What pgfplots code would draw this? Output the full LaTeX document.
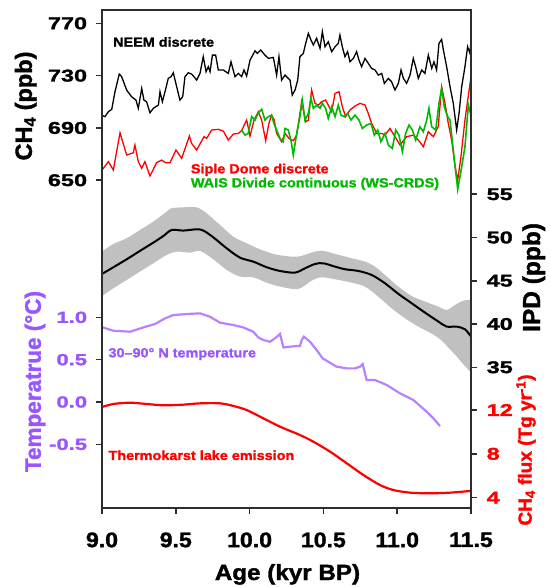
\documentclass[border=0pt]{standalone}
\usepackage{fontspec}
\setmainfont{Liberation Sans}[FakeStretch=1.1, BoldFeatures={FakeBold=1.5}]
\newfontfamily\yfont{Liberation Sans}[FakeStretch=1.38, BoldFeatures={FakeBold=1.5}]
\newfontfamily\rfont{Liberation Sans}[BoldFeatures={FakeBold=1.5}]
\usepackage{pgfplots}
\pgfplotsset{compat=1.18}
\usepgfplotslibrary{fillbetween}

\definecolor{ch4red}{RGB}{255,0,0}
\definecolor{waisgreen}{RGB}{0,185,0}
\definecolor{tempviolet}{RGB}{153,85,255}
\definecolor{templine}{RGB}{182,130,255}
\definecolor{band}{RGB}{192,192,192}
\definecolor{axisgray}{RGB}{45,45,45}

\pgfplotsset{
  frame/.style={
    at={(102pt,79pt)}, anchor=south west,
    scale only axis, width=369pt, height=498pt,
    xmin=9, xmax=11.5,
    axis line style={axisgray, line width=1.5pt},
    tick style={axisgray, line width=1.5pt},
    tick align=outside, major tick length=6pt,
    xtick=\empty,
    clip=true,
  },
  lefty/.style={ytick pos=left, yticklabel pos=left,
    yticklabel style={inner sep=0pt, xshift=-8.7pt, anchor=east}},
  righty/.style={ytick pos=right, yticklabel pos=right,
    yticklabel style={inner sep=0pt, xshift=9.5pt, anchor=west}},
}

\begin{document}
\begin{tikzpicture}

% IPD with band
\begin{axis}[frame, righty,
  ymin=18.73, ymax=76.3,
  ytick={35,40,45,50,55}, yticklabels={35,40,45,50,55},
  yticklabel style={font=\yfont\bfseries\fontsize{17}{20}\selectfont},
  ylabel={IPD (ppb)},
  ylabel style={at={(axis description cs:1.1699,0.4629)}, anchor=center,
    font=\rfont\bfseries\fontsize{24.5}{28}\selectfont},
]
\addplot[name path=up, draw=none, smooth] coordinates {
(9.0,48.37)(9.077,49.25)(9.167,49.91)(9.257,50.87)(9.348,51.84)(9.438,52.99)(9.472,53.38)(9.551,53.49)(9.641,53.49)(9.709,52.8)(9.799,51.45)(9.89,50.1)(9.98,49.33)(10.07,48.64)(10.161,48.1)(10.24,47.87)(10.33,47.79)(10.42,48.25)(10.488,48.48)(10.579,48.1)(10.692,47.6)(10.782,47.21)(10.85,46.63)(10.917,45.67)(11.008,44.32)(11.098,43.24)(11.188,42.59)(11.279,42.01)(11.335,41.62)(11.392,42.2)(11.448,42.7)(11.5,42.78)};
\addplot[name path=lo, draw=none, smooth] coordinates {
(9.0,43.24)(9.077,44.13)(9.167,45.09)(9.257,46.06)(9.348,47.02)(9.438,47.98)(9.506,48.37)(9.596,48.25)(9.664,48.45)(9.754,47.48)(9.845,46.25)(9.935,45.48)(10.025,45.4)(10.116,44.78)(10.206,44.32)(10.33,44.05)(10.42,45.01)(10.488,45.4)(10.579,45.17)(10.692,44.78)(10.782,44.32)(10.872,43.16)(10.962,41.82)(11.053,40.66)(11.143,39.7)(11.233,38.9)(11.3,38.1)(11.35,37.2)(11.4,36.3)(11.45,35.3)(11.5,34.4)};
\addplot[band] fill between[of=up and lo];
\addplot[black, line width=2pt, smooth] coordinates {
(9.0,45.79)(9.077,46.56)(9.167,47.48)(9.257,48.45)(9.348,49.41)(9.416,50.18)(9.472,50.87)(9.551,50.8)(9.641,50.95)(9.687,50.8)(9.754,50.02)(9.845,48.75)(9.935,47.67)(10.025,47.21)(10.116,46.56)(10.206,46.13)(10.308,45.94)(10.375,46.44)(10.443,46.94)(10.5,47.02)(10.579,46.63)(10.646,46.33)(10.737,46.13)(10.827,45.67)(10.917,44.71)(11.008,43.48)(11.098,42.4)(11.188,41.32)(11.279,40.28)(11.335,39.7)(11.403,39.7)(11.459,39.39)(11.5,38.54)};
\end{axis}

% CH4 records
\begin{axis}[frame, lefty,
  ymin=399.3, ymax=780.2,
  ytick={650,690,730,770}, yticklabels={650,690,730,770},
  yticklabel style={font=\yfont\bfseries\fontsize{17}{20}\selectfont},
  xtick={9,9.5,10,10.5,11,11.5},
  xticklabels={9.0,9.5,10.0,10.5,11.0,11.5},
  xtick pos=bottom,
  xticklabel style={font=\bfseries\fontsize{21}{24}\selectfont, inner sep=0pt, yshift=-18.3pt},
  xlabel={Age (kyr BP)},
  xlabel style={at={(axis description cs:0.5027,-0.1446)}, anchor=base,
    font=\bfseries\fontsize{22}{26}\selectfont},
  ylabel={CH\textsubscript{4} (ppb)},
  ylabel style={at={(axis description cs:-0.2065,0.8072)}, anchor=center,
    font=\rfont\bfseries\fontsize{23.5}{28}\selectfont},
]
\addplot[black, line width=1.3pt] coordinates {
(9.005,699.3)(9.02,698.6)(9.043,702.4)(9.066,704.2)(9.088,717.7)(9.117,731.2)(9.133,729.2)(9.167,719)(9.2,713.9)(9.23,711.3)(9.246,705)(9.269,720.2)(9.284,711.3)(9.302,710)(9.325,701.6)(9.348,705)(9.382,707.5)(9.393,717.7)(9.409,710)(9.427,717.7)(9.449,727.9)(9.468,729.2)(9.483,732.2)(9.506,721.5)(9.528,711.3)(9.547,713.9)(9.562,729.2)(9.585,732.2)(9.607,731.2)(9.623,729.2)(9.641,726.6)(9.664,731.7)(9.686,744.5)(9.705,733)(9.72,736.8)(9.732,733)(9.748,745.7)(9.77,745.7)(9.788,734.3)(9.822,734.3)(9.856,731.7)(9.874,740.6)(9.901,729.2)(9.924,731.7)(9.946,729.2)(9.962,734.3)(9.98,729.7)(10.003,741.9)(10.037,749)(10.052,747)(10.075,749.6)(10.104,745.7)(10.127,743.2)(10.161,743.9)(10.183,730.4)(10.199,744.5)(10.217,726.6)(10.24,730.4)(10.262,727.9)(10.274,726.6)(10.289,715.1)(10.308,719)(10.326,726.6)(10.341,744.5)(10.364,747)(10.38,754.7)(10.398,762.3)(10.416,757.2)(10.432,753.4)(10.454,758.5)(10.477,750.8)(10.493,763.6)(10.511,752.1)(10.533,755.9)(10.556,748.3)(10.579,752.1)(10.601,754.7)(10.612,761)(10.628,752.1)(10.646,744.5)(10.664,748.3)(10.68,740.6)(10.703,743.2)(10.725,748.3)(10.741,741.9)(10.759,736.8)(10.782,743.2)(10.804,739.4)(10.827,735.5)(10.85,734.3)(10.872,730.4)(10.895,731.7)(10.913,724.1)(10.94,727.9)(10.962,725.3)(10.985,719)(11.008,724.1)(11.026,734.3)(11.042,727.9)(11.064,724.1)(11.087,730.4)(11.109,743.2)(11.125,736.8)(11.143,727.9)(11.166,734.3)(11.188,731.7)(11.211,745.7)(11.234,735.5)(11.249,740.6)(11.267,734.3)(11.283,754.7)(11.301,757.7)(11.313,749.6)(11.335,736.8)(11.358,721.5)(11.38,708.8)(11.403,688.4)(11.419,701.1)(11.437,721.5)(11.459,736.8)(11.477,752.1)(11.493,747)(11.5,757.2)};
\addplot[ch4red, line width=1.3pt] coordinates {
(9.0,657.8)(9.043,664.2)(9.077,657.8)(9.122,686.3)(9.167,669.3)(9.212,671)(9.223,676.9)(9.246,664.2)(9.269,659.1)(9.291,664.2)(9.325,653.2)(9.37,663.4)(9.404,665.4)(9.431,663.4)(9.461,663.4)(9.501,673.1)(9.54,666.7)(9.592,683.8)(9.607,678.2)(9.641,673.1)(9.691,683.3)(9.709,682)(9.743,688.4)(9.788,688.9)(9.822,687.6)(9.856,680.7)(9.89,685.3)(9.924,685.8)(9.946,687.9)(9.98,696)(10.003,683.8)(10.03,696)(10.059,702.4)(10.082,696)(10.109,680.2)(10.131,693.5)(10.149,699.8)(10.167,696)(10.183,685.8)(10.217,679.4)(10.24,685.8)(10.267,682)(10.296,680.2)(10.319,684.5)(10.353,710)(10.38,694.7)(10.398,696)(10.42,719)(10.443,708.8)(10.466,707.5)(10.488,710)(10.515,711.3)(10.556,702.4)(10.579,716.4)(10.606,717.7)(10.628,706.2)(10.651,698.6)(10.68,703.7)(10.714,706.7)(10.748,708.8)(10.782,707.5)(10.804,701.1)(10.827,693.5)(10.861,685.8)(10.895,685.8)(10.917,684.5)(10.951,689.6)(10.985,683.3)(11.019,676.9)(11.064,683.3)(11.109,684.5)(11.143,680.7)(11.177,675.6)(11.211,687.1)(11.245,683.3)(11.278,690.9)(11.301,721.5)(11.324,708.8)(11.346,693.5)(11.369,680.7)(11.392,660.3)(11.41,650.1)(11.432,668)(11.459,696)(11.5,729.2)};
\addplot[waisgreen, line width=1.6pt] coordinates {
(9.946,688.4)(9.969,684.5)(9.991,685.8)(10.014,698.6)(10.037,696)(10.059,701.6)(10.082,704.2)(10.104,696)(10.127,698.6)(10.149,699.8)(10.165,693.5)(10.183,688.4)(10.206,682)(10.228,679.4)(10.24,689.6)(10.262,688.4)(10.28,680.7)(10.296,669.3)(10.319,685.8)(10.341,698.6)(10.357,711.3)(10.375,696)(10.398,701.1)(10.416,712.6)(10.432,705)(10.454,707.5)(10.477,705)(10.493,708.8)(10.515,705)(10.533,697.3)(10.556,706.2)(10.579,698.6)(10.601,707.5)(10.619,699.8)(10.642,698.6)(10.664,701.1)(10.687,696)(10.714,699.8)(10.741,696)(10.764,689.6)(10.793,692.2)(10.822,693.5)(10.845,684.5)(10.868,688.4)(10.89,679.4)(10.917,685.8)(10.94,676.9)(10.967,674.3)(10.99,688.4)(11.012,684.5)(11.035,671.8)(11.057,685.8)(11.08,692.2)(11.103,688.4)(11.125,680.7)(11.154,690.9)(11.177,687.1)(11.2,696)(11.215,705)(11.234,690.9)(11.261,688.4)(11.283,708.8)(11.301,720.2)(11.319,706.2)(11.342,698.6)(11.358,696)(11.38,673.1)(11.41,643)(11.437,660.3)(11.459,675.6)(11.482,707.5)(11.5,699.8)};
\node[anchor=base west, inner sep=0pt, font=\bfseries\fontsize{13.1}{15}\selectfont]
  at (axis description cs:0.0298,0.9263) {NEEM discrete};
\node[anchor=base west, inner sep=0pt, text=ch4red, font=\bfseries\fontsize{13.1}{15}\selectfont]
  at (axis description cs:0.2404,0.6721) {Siple Dome discrete};
\node[anchor=base west, inner sep=0pt, text=waisgreen, font=\bfseries\fontsize{13.1}{15}\selectfont]
  at (axis description cs:0.2404,0.6440) {WAIS Divide continuous (WS-CRDS)};
\end{axis}

% temperature
\begin{axis}[frame, lefty,
  ymin=-1.252, ymax=4.63,
  ytick={-0.5,0,0.5,1}, yticklabels={-0.5,0.0,0.5,1.0},
  yticklabel style={text=tempviolet, font=\yfont\bfseries\fontsize{16}{19}\selectfont},
  ylabel={Temperatrue (°C)},
  ylabel style={at={(axis description cs:-0.1816,0.254)}, anchor=center, text=tempviolet,
    font=\rfont\bfseries\fontsize{22.5}{27}\selectfont},
]
\addplot[templine, line width=2.2pt] coordinates {
(9.005,0.881)(9.077,0.842)(9.19,0.83)(9.28,0.881)(9.359,0.921)(9.427,0.988)(9.483,1.027)(9.574,1.039)(9.664,1.047)(9.732,1.007)(9.799,0.937)(9.89,0.909)(9.957,0.881)(10.025,0.83)(10.059,0.763)(10.093,0.732)(10.138,0.712)(10.172,0.752)(10.206,0.803)(10.229,0.645)(10.274,0.653)(10.319,0.661)(10.341,0.661)(10.353,0.732)(10.368,0.771)(10.409,0.712)(10.454,0.614)(10.495,0.515)(10.533,0.476)(10.59,0.417)(10.658,0.397)(10.714,0.397)(10.748,0.417)(10.766,0.448)(10.793,0.259)(10.85,0.259)(10.93,0.2)(11.019,0.102)(11.11,0.023)(11.2,-0.115)(11.245,-0.193)(11.29,-0.284)};
\node[anchor=base west, inner sep=0pt, text=tempviolet, font=\bfseries\fontsize{13.1}{15}\selectfont]
  at (axis description cs:0.0171,0.3026) {30–90° N temperature};
\end{axis}

% thermokarst lake flux
\begin{axis}[frame, righty,
  ymin=3.06, ymax=48.5,
  ytick={4,8,12}, yticklabels={4,8,12},
  yticklabel style={text=ch4red, font=\yfont\bfseries\fontsize{17}{20}\selectfont},
  ylabel={CH\textsubscript{4} flux (Tg yr\textsuperscript{-1})},
  ylabel style={at={(axis description cs:1.149,0.1165)}, anchor=center, text=ch4red,
    font=\rfont\bfseries\fontsize{19}{23}\selectfont},
]
\addplot[ch4red, line width=2.2pt, smooth] coordinates {
(9.005,12.3)(9.077,12.55)(9.19,12.67)(9.303,12.55)(9.416,12.43)(9.551,12.49)(9.664,12.61)(9.799,12.61)(9.89,12.37)(9.98,12.0)(10.093,11.24)(10.206,10.48)(10.341,9.72)(10.432,9.11)(10.545,8.2)(10.658,7.14)(10.771,6.07)(10.883,5.16)(10.974,4.7)(11.087,4.46)(11.222,4.4)(11.358,4.46)(11.493,4.61)};
\node[anchor=base west, inner sep=0pt, text=ch4red, font=\bfseries\fontsize{13.1}{15}\selectfont]
  at (axis description cs:0.0171,0.0964) {Thermokarst lake emission};
\end{axis}

\pgfresetboundingbox
\path[use as bounding box] (0,0) rectangle (550pt,587pt);
\end{tikzpicture}
\end{document}
